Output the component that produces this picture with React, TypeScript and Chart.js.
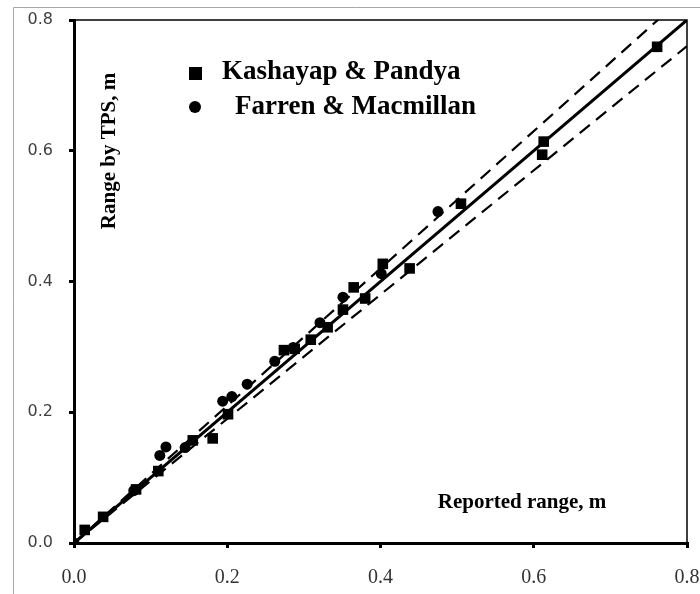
import React, { useEffect, useRef } from "react";
import { Chart, registerables } from "chart.js";

Chart.register(...registerables);

// ---- data ----
const seriesNames = ["Kashayap & Pandya", "Farren & Macmillan"];
const kashayapX = [0.014, 0.038, 0.081, 0.110, 0.155, 0.181, 0.201, 0.274, 0.288, 0.309, 0.331, 0.351, 0.365, 0.380, 0.403, 0.438, 0.505, 0.611, 0.613, 0.761];
const kashayapY = [0.020, 0.040, 0.082, 0.110, 0.157, 0.160, 0.197, 0.295, 0.297, 0.311, 0.330, 0.357, 0.391, 0.374, 0.427, 0.420, 0.519, 0.594, 0.614, 0.759];
const farrenX = [0.0, 0.078, 0.112, 0.120, 0.145, 0.194, 0.206, 0.226, 0.262, 0.286, 0.321, 0.351, 0.401, 0.475];
const farrenY = [0.0, 0.080, 0.134, 0.147, 0.146, 0.217, 0.224, 0.243, 0.278, 0.299, 0.337, 0.376, 0.412, 0.507];
const refLineX = [0, 0.8];
const bandFactors = [1.05, 0.95];
const tickValues = [0, 0.2, 0.4, 0.6, 0.8];
const xTitle = "Reported range, m";
const yTitle = "Range by TPS, m";

const SERIF = '"Liberation Serif", "Times New Roman", serif';

const decorPlugin = {
  id: "decor",
  beforeDraw(chart: any) {
    const ctx = chart.ctx;
    ctx.save();
    ctx.fillStyle = "#ffffff";
    ctx.fillRect(0, 0, chart.width, chart.height);
    // light outer border
    ctx.strokeStyle = "#a8a8a8";
    ctx.lineWidth = 1;
    ctx.beginPath();
    ctx.moveTo(13.5, chart.height);
    ctx.lineTo(13.5, 7.5);
    ctx.lineTo(chart.width, 7.5);
    ctx.stroke();
    ctx.restore();
  },
  afterDraw(chart: any) {
    const ctx = chart.ctx;
    const a = chart.chartArea;
    ctx.save();
    // top & right frame
    ctx.strokeStyle = "#000";
    ctx.lineWidth = 1.5;
    ctx.beginPath();
    ctx.moveTo(a.left, a.top);
    ctx.lineTo(a.right, a.top);
    ctx.lineTo(a.right, a.bottom);
    ctx.stroke();

    // axis titles
    ctx.fillStyle = "#000";
    ctx.font = `bold 21px ${SERIF}`;
    ctx.textAlign = "center";
    ctx.textBaseline = "middle";
    ctx.fillText(xTitle, 522, 503);
    ctx.save();
    ctx.translate(110, 151);
    ctx.rotate(-Math.PI / 2);
    ctx.fillText(yTitle, 0, 0);
    ctx.restore();

    // legend
    ctx.font = `bold 27px ${SERIF}`;
    ctx.textAlign = "left";
    ctx.fillRect(189, 67, 13, 13);
    ctx.fillText(seriesNames[0], 222, 72);
    ctx.beginPath();
    ctx.arc(195, 107, 6, 0, Math.PI * 2);
    ctx.fill();
    ctx.fillText(seriesNames[1], 235, 107);
    ctx.restore();
  },
};

export default function App() {
  const ref = useRef<HTMLCanvasElement>(null);
  useEffect(() => {
    if (!ref.current) return;
    const toPts = (xs: number[], ys: number[]) => xs.map((x, i) => ({ x, y: ys[i] }));
    const lineFor = (f: number) => refLineX.map((x) => ({ x, y: x * f }));
    const chart = new Chart(ref.current, {
      type: "scatter",
      data: {
        datasets: [
          {
            label: seriesNames[0],
            data: toPts(kashayapX, kashayapY),
            pointStyle: "rect",
            pointRadius: 7.5,
            backgroundColor: "#000",
            borderColor: "#000",
            borderWidth: 0,
            order: 1,
          },
          {
            label: seriesNames[1],
            data: toPts(farrenX, farrenY),
            pointStyle: "circle",
            pointRadius: 5.5,
            backgroundColor: "#000",
            borderColor: "#000",
            borderWidth: 0,
            order: 0,
          },
          {
            label: "fit",
            data: lineFor(1),
            showLine: true,
            pointRadius: 0,
            borderColor: "#000",
            borderWidth: 3,
            order: 2,
          },
          {
            label: "upper",
            data: lineFor(bandFactors[0]),
            showLine: true,
            pointRadius: 0,
            borderColor: "#000",
            borderWidth: 2.2,
            borderDash: [13, 8],
            order: 3,
          },
          {
            label: "lower",
            data: lineFor(bandFactors[1]),
            showLine: true,
            pointRadius: 0,
            borderColor: "#000",
            borderWidth: 2.2,
            borderDash: [13, 8],
            order: 3,
          },
        ],
      },
      options: {
        responsive: false,
        animation: false,
        events: [],
        layout: { padding: { top: 20, right: 13, left: 0, bottom: 0 } },
        plugins: { legend: { display: false }, tooltip: { enabled: false } },
        scales: {
          x: {
            type: "linear",
            min: tickValues[0],
            max: tickValues[tickValues.length - 1],
            afterFit: (s: any) => {
              s.height = 51;
              s.paddingLeft = 0;
              s.paddingRight = 0;
            },
            afterBuildTicks: (s: any) => {
              s.ticks = tickValues.map((v) => ({ value: v }));
            },
            ticks: {
              callback: (v: any) => Number(v).toFixed(1),
              font: { family: SERIF, size: 20 },
              color: "#333",
              padding: 18,
              maxRotation: 0,
            },
            grid: { drawOnChartArea: false, drawTicks: true, tickLength: 5, color: "#000", lineWidth: 3 },
            border: { color: "#000", width: 3 },
          },
          y: {
            type: "linear",
            min: tickValues[0],
            max: tickValues[tickValues.length - 1],
            afterFit: (s: any) => {
              s.width = 74;
              s.paddingTop = 0;
              s.paddingBottom = 0;
            },
            afterBuildTicks: (s: any) => {
              s.ticks = tickValues.map((v) => ({ value: v }));
            },
            ticks: {
              callback: (v: any) => Number(v).toFixed(1),
              font: { family: '"DejaVu Sans", sans-serif', size: 16 },
              color: "#404040",
              padding: 16,
            },
            grid: { drawOnChartArea: false, drawTicks: true, tickLength: 5, color: "#000", lineWidth: 3 },
            border: { color: "#000", width: 3 },
          },
        },
      },
      plugins: [decorPlugin],
    } as any);
    return () => chart.destroy();
  }, []);
  return (
    <div style={{ position: "absolute", left: 0, top: 0, width: 700, height: 594 }}>
      <canvas ref={ref} width={700} height={594} style={{ width: 700, height: 594 }} />
    </div>
  );
}
